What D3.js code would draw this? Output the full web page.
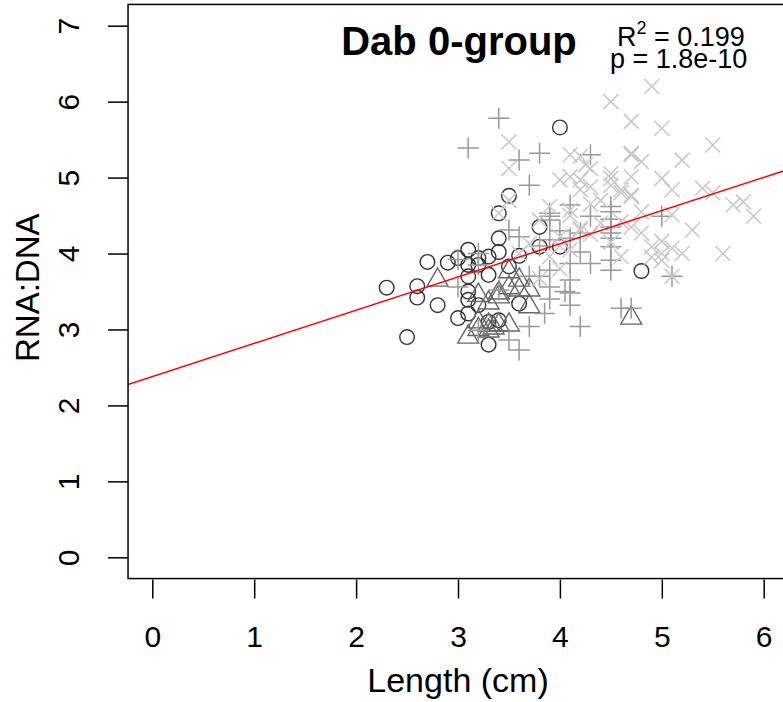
<!DOCTYPE html>
<html>
<head>
<meta charset="utf-8">
<script src="https://cdn.jsdelivr.net/npm/d3@7"></script>
<style>
  body { margin: 0; background: #fff; }
  svg { display: block; font-family: "Liberation Sans", Arial, Helvetica, sans-serif; }
</style>
</head>
<body>
<svg width="783" height="702"></svg>
<script>
// Data: [length (cm), RNA:DNA] per group
const circles = [
  [2.3, 3.55], [2.5, 2.90], [2.6, 3.57], [2.6, 3.42], [2.7, 3.89], [2.8, 3.32],
  [2.9, 3.88], [3.0, 3.94], [3.0, 3.15], [3.1, 4.05], [3.1, 3.85], [3.1, 3.70],
  [3.1, 3.50], [3.1, 3.39], [3.1, 3.21], [3.2, 3.94], [3.2, 3.32], [3.2, 3.85],
  [3.3, 3.96], [3.3, 3.72], [3.3, 2.80], [3.3, 3.10], [3.4, 4.02], [3.4, 4.20],
  [3.4, 4.53], [3.4, 3.12], [3.5, 3.83], [3.5, 4.76], [3.6, 3.97], [3.6, 3.34],
  [3.8, 4.35], [3.8, 4.09], [4.0, 5.66], [4.0, 4.09], [4.8, 3.77]
];
const triangles = [
  [2.8, 3.65], [3.1, 2.90], [3.2, 3.45], [3.2, 3.00], [3.3, 3.06], [3.3, 2.98],
  [3.35, 3.02], [3.4, 3.43], [3.4, 3.48], [3.4, 3.06], [3.5, 3.06], [3.5, 3.76],
  [3.6, 3.65], [3.6, 3.52], [3.7, 3.30], [3.7, 3.52], [3.5, 3.55], [3.3, 3.35],
  [3.2, 3.10], [4.7, 3.15]
];
const pluses = [
  [3.0, 3.92], [3.2, 4.00], [3.2, 3.85], [3.0, 3.56], [3.4, 3.52], [3.5, 2.86],
  [3.6, 2.73], [3.2, 2.99], [3.7, 3.04], [3.85, 3.21], [3.9, 3.56], [3.8, 3.70],
  [3.9, 3.78], [3.9, 4.18], [3.9, 4.44], [3.9, 4.53], [3.6, 4.22], [3.5, 4.31],
  [3.7, 3.70], [3.1, 5.39], [3.4, 5.78], [3.6, 5.23], [3.8, 5.32], [3.7, 4.90],
  [4.3, 5.30], [4.3, 4.49], [4.5, 4.55], [3.9, 4.49], [4.1, 4.64], [4.5, 4.35],
  [4.5, 4.20], [4.1, 4.20], [4.5, 4.62], [4.5, 4.45], [4.5, 4.27], [5.0, 4.49],
  [4.2, 4.27], [4.2, 4.02], [4.5, 4.09], [4.5, 3.91], [4.5, 3.78], [4.1, 3.87],
  [4.3, 3.87], [4.1, 3.65], [4.1, 3.48], [4.1, 3.32], [4.2, 3.04], [4.6, 3.28],
  [4.7, 3.28], [5.1, 3.70], [4.0, 4.30], [3.8, 4.10], [4.05, 3.50], [3.9, 3.40]
];
const crosses = [
  [4.9, 6.20], [4.5, 6.00], [4.7, 5.74], [5.0, 5.65], [5.5, 5.43], [5.2, 5.23],
  [4.7, 5.32], [4.8, 5.21], [4.1, 5.30], [4.25, 5.17], [4.5, 4.99], [4.5, 4.90],
  [4.1, 5.01], [4.3, 4.88], [4.6, 4.84], [4.7, 4.77], [5.0, 4.99], [5.1, 4.84],
  [5.4, 4.86], [5.7, 4.64], [5.8, 4.68], [5.9, 4.49], [5.1, 4.51], [5.3, 4.31],
  [4.8, 4.27], [4.9, 4.09], [5.0, 4.00], [5.6, 4.00], [5.0, 4.16], [5.1, 4.07],
  [4.6, 3.96], [5.0, 3.91], [5.1, 3.70], [4.6, 4.42], [4.7, 4.75], [4.2, 4.31],
  [4.1, 4.50], [3.5, 5.47], [3.5, 5.12], [4.2, 5.28], [4.3, 5.12], [4.0, 4.97],
  [4.2, 4.97], [4.7, 5.01], [4.7, 5.30], [4.2, 4.84], [4.1, 4.57], [4.3, 4.65],
  [4.6, 4.80], [3.9, 4.62], [3.8, 4.44], [4.2, 4.33], [4.0, 4.22], [4.7, 4.35],
  [3.4, 4.53], [3.8, 3.67], [3.9, 3.96], [4.0, 4.10], [3.7, 4.13], [3.5, 4.70],
  [4.4, 4.70], [4.4, 4.40], [4.5, 5.05], [5.5, 4.80], [4.0, 3.80], [4.1, 4.05],
  [3.6, 4.00], [4.3, 4.25], [4.8, 4.55], [5.2, 4.00], [4.9, 3.95], [4.5, 4.15]
];

// Fitted line and stats
const intercept = 2.38;
const slope = 0.437;
const titleText = "Dab 0-group";
const r2Text = "0.199";
const pText = "p = 1.8e-10";
const xTicks = [0, 1, 2, 3, 4, 5, 6];
const yTicks = [0, 1, 2, 3, 4, 5, 6, 7];

const svg = d3.select("svg");

// Scales (R-style 4% padded limits)
const x = d3.scaleLinear().domain([0, 6]).range([152.3, 763.7]);
const y = d3.scaleLinear().domain([0, 7]).range([557.3, 25.7]);
const xlim = [-0.238, 6.2];
const ylim = [-0.28, 7.28];

const plot = {
    left: x(xlim[0]), right: x(xlim[1]),
    top: y(ylim[1]), bottom: y(ylim[0])
};

// Clip to plot region
svg.append("clipPath").attr("id", "clip")
    .append("rect")
    .attr("x", plot.left).attr("y", plot.top)
    .attr("width", plot.right - plot.left)
    .attr("height", plot.bottom - plot.top);

const g = svg.append("g").attr("clip-path", "url(#clip)");

// Circles
g.selectAll(".circ")
    .data(circles)
    .enter()
    .append("circle")
    .attr("class", "circ")
    .attr("cx", d => x(d[0]))
    .attr("cy", d => y(d[1]))
    .attr("r", 7.3)
    .attr("fill", "none")
    .attr("stroke", "#333333")
    .attr("stroke-width", 1.4);

// Triangles
const triSym = d3.symbol().type(d3.symbolTriangle).size(190);
g.selectAll(".tri")
    .data(triangles)
    .enter()
    .append("path")
    .attr("class", "tri")
    .attr("transform", d => `translate(${x(d[0])}, ${y(d[1])})`)
    .attr("d", triSym)
    .attr("fill", "none")
    .attr("stroke", "#666666")
    .attr("stroke-width", 1.4);

// Plus signs
const plusPath = "M-10.5,0H10.5M0,-10.5V10.5";
g.selectAll(".plus")
    .data(pluses)
    .enter()
    .append("path")
    .attr("class", "plus")
    .attr("transform", d => `translate(${x(d[0])}, ${y(d[1])})`)
    .attr("d", plusPath)
    .attr("stroke", "#999999")
    .attr("stroke-width", 1.5);

// Crosses
const crossPath = "M-7.5,-7.5L7.5,7.5M-7.5,7.5L7.5,-7.5";
g.selectAll(".cross")
    .data(crosses)
    .enter()
    .append("path")
    .attr("class", "cross")
    .attr("transform", d => `translate(${x(d[0])}, ${y(d[1])})`)
    .attr("d", crossPath)
    .attr("stroke", "#c8c8c8")
    .attr("stroke-width", 1.5);

// Regression line
g.append("line")
    .attr("x1", x(xlim[0]))
    .attr("y1", y(intercept + slope * xlim[0]))
    .attr("x2", x(xlim[1]))
    .attr("y2", y(intercept + slope * xlim[1]))
    .attr("stroke", "#ff0000")
    .attr("stroke-width", 1.5);

// Box
svg.append("rect")
    .attr("x", plot.left).attr("y", plot.top)
    .attr("width", plot.right - plot.left + 5)
    .attr("height", plot.bottom - plot.top)
    .attr("fill", "none")
    .attr("stroke", "#000")
    .attr("stroke-width", 1.5);

// Axes
const xAxis = d3.axisBottom(x).tickValues(xTicks).tickSize(19).tickPadding(27)
    .tickFormat(d3.format("d"));
const xg = svg.append("g")
    .attr("transform", `translate(0, ${plot.bottom + 1})`)
    .call(xAxis);
xg.select(".domain").remove();
xg.selectAll("line").attr("stroke-width", 1.5);
xg.selectAll("text").attr("font-size", 30).attr("font-family", null);

const yAxis = d3.axisLeft(y).tickValues(yTicks).tickSize(20).tickPadding(0)
    .tickFormat(d3.format("d"));
const yg = svg.append("g")
    .attr("transform", `translate(${plot.left}, 0)`)
    .call(yAxis);
yg.select(".domain").remove();
yg.selectAll("line").attr("stroke-width", 1.5);
yg.selectAll("text")
    .attr("font-size", 30)
    .attr("font-family", null)
    .attr("x", null)
    .attr("text-anchor", "middle")
    .attr("transform", "translate(-60, 0) rotate(-90)")
    .attr("dy", "0.35em");

// Axis titles
svg.append("text")
    .attr("x", 458)
    .attr("y", 692)
    .attr("text-anchor", "middle")
    .attr("font-size", 34)
    .text("Length (cm)");

svg.append("text")
    .attr("transform", `translate(39, ${y(3.55)}) rotate(-90)`)
    .attr("text-anchor", "middle")
    .attr("font-size", 33)
    .text("RNA:DNA");

// Title and stats
svg.append("text")
    .attr("x", 459)
    .attr("y", 55)
    .attr("text-anchor", "middle")
    .attr("font-size", 40)
    .attr("font-weight", "bold")
    .text(titleText);

const stat = svg.append("text")
    .attr("x", 617)
    .attr("y", 46)
    .attr("font-size", 27);
stat.append("tspan").text("R");
stat.append("tspan").attr("font-size", 18).attr("dy", -12).text("2");
stat.append("tspan").attr("dy", 12).text(" = " + r2Text);

svg.append("text")
    .attr("x", 610)
    .attr("y", 68)
    .attr("font-size", 27)
    .text(pText);
</script>
</body>
</html>
